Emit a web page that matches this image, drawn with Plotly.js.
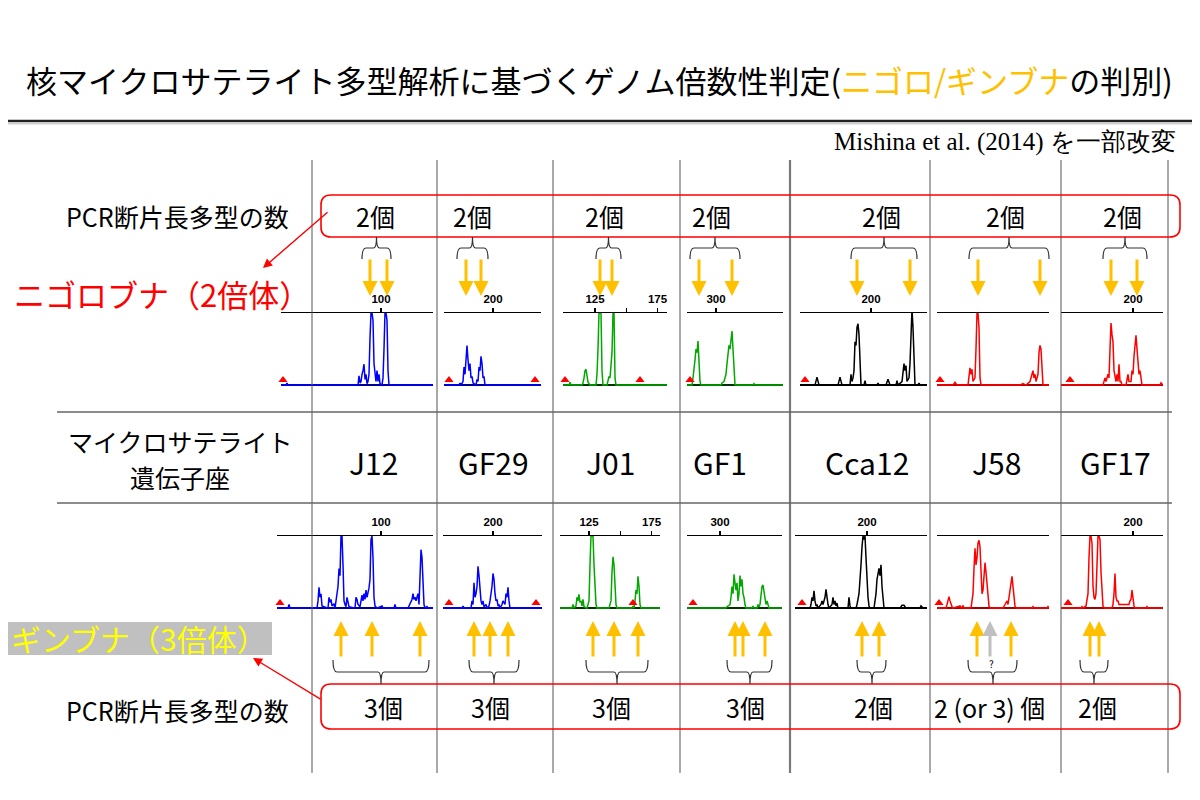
<!DOCTYPE html>
<html><head><meta charset="utf-8">
<script src="https://cdn.plot.ly/plotly-3.0.1.min.js"></script>
<style>html,body{margin:0;padding:0;background:#fff}#chart{width:1200px;height:800px}</style>
</head><body><div id="chart"></div>
<script>
// ---------------- DATA ----------------
const loci = ['J12','GF29','J01','GF1','Cca12','J58','GF17'];
const nigoroCounts = ['2個','2個','2個','2個','2個','2個','2個'];
const ginbunaCounts = ['3個','3個','3個','3個','2個','2 (or 3) 個','2個'];
// allele sizes (bp) marked by arrows
const nigoroAlleles = [[91.2,104.8],[178.4,190.4],[129,138.6],[286.4,312.8],[188.8,231.2],[182.8,232.4],[182.4,203.2]];
const ginbunaAlleles = [[68,92.8,131.2],[184.8,197.6,212],[128.2,145,164.2],[312,318.4,336],[196,209.6],[182,209.2],[165.6,172.8]];
const ginbunaUncertainJ58 = [192.4];
// size-axis ticks
const tickJ12 = [100], tickGF29 = [200], tickJ01 = [125,150,175], tickJ01Text = ['125','','175'];
const tickGF1 = [300], tickCca12 = [200], tickJ58 = [], tickGF17 = [200];

// Nigorobuna (diploid) electropherograms: size (bp) and relative height
const j12Top_bp = [20,24,24.8,25.6,81.6,82.4,83.2,84,84.8,85.6,86.4,87.2,88,88.8,89.6,90.4,91.2,92,92.8,93.6,94.4,95.2,96,96.8,97.6,98.4,99.2,100.8,101.6,102.4,103.2,104,104.8,105.6,106.4,141.6];
const j12Top_h  = [0,0,0.03,0,0,0.13,0.03,0.05,0.15,0.2,0.29,0.08,0.15,0.02,0.05,0.15,0.65,1,1,0.9,0.3,0.2,0.05,0.2,0.05,0.15,0.02,0,0.1,0.5,1,1,0.9,0.2,0,0];
const j12Top_std = [21.6];

const gf29Top_bp = [160.8,172.8,173.6,174.4,176,176.8,177.6,178.4,179.2,180,180.8,181.6,182.4,183.2,184,186.4,187.2,188,188.8,189.6,190.4,191.2,192,192.8,193.6,238.4];
const gf29Top_h  = [0,0,0.03,0,0.05,0.25,0.15,0.4,0.55,0.35,0.2,0.3,0.1,0.12,0.03,0,0.08,0.05,0.25,0.2,0.4,0.3,0.1,0.12,0,0];
const gf29Top_std = [164.8,233.6];

const j01Top_bp = [99.4,104.2,105,105.8,114.6,115.4,116.2,117,117.8,118.6,119.4,120.2,121,125.8,126.6,127.4,128.2,129,129.8,130.6,131.4,134.6,135.4,136.2,137,137.8,138.6,139.4,140.2,141,141.8,182.6];
const j01Top_h  = [0,0,0.04,0,0,0.03,0.1,0.2,0.22,0.08,0.04,0.02,0,0,0.15,0.5,1,1,1,0.2,0,0,0.05,0.12,0.1,0.35,0.45,1,1,0.1,0,0];
const j01Top_std = [101,161];

const gf1Top_bp = [276.8,280.8,281.6,282.4,283.2,284,284.8,285.6,286.4,287.2,288,304,304.8,306.4,307.2,308,308.8,309.6,310.4,311.2,312,312.8,313.6,314.4,315.2,329.6,330.4,331.2,353.6];
const gf1Top_h  = [0,0,0.1,0.2,0.35,0.5,0.45,0.61,0.3,0.05,0,0,0.03,0.05,0.1,0.15,0.3,0.45,0.55,0.5,0.65,0.75,0.5,0.2,0,0,0.02,0,0];
const gf1Top_std = [279.2];

const cca12Top_bp = [143.2,155.2,156.8,158.4,173.6,175.2,176.8,183.2,184,184.8,185.6,186.4,187.2,188,188.8,189.6,190.4,191.2,192,194.4,195.2,196,204.8,205.6,206.4,212,213.6,215.2,220,220.8,221.6,224.8,226.4,227.2,228,228.8,230.4,231.2,232,232.8,233.6,234.4,235.2,237.6,238.4,239.2,244.8];
const cca12Top_h  = [0,0,0.11,0,0,0.11,0,0,0.15,0.05,0.1,0.2,0.6,0.55,0.8,0.85,0.7,0.4,0,0,0.06,0,0,0.03,0,0,0.08,0,0,0.06,0,0.05,0.3,0.2,0.27,0.05,0.1,0.3,0.7,1.05,0.8,0.2,0,0,0.03,0,0];
const cca12Top_std = [147.2];

const j58Top_bp = [150,162.8,164.4,166,174.8,175.6,176.4,177.2,178,178.8,180.4,181.2,182,182.8,183.6,184.4,185.2,216.4,218.8,221.2,224.4,226,226.8,227.6,228.4,229.2,230.8,231.6,232.4,233.2,234,234.8,239.6];
const j58Top_h  = [0,0,0.04,0,0,0.1,0.24,0.15,0.22,0.05,0.1,0.5,1,1,0.8,0.1,0,0,0.02,0,0.05,0.15,0.2,0.1,0.15,0.05,0.15,0.45,0.55,0.5,0.2,0,0];
const j58Top_std = [152.4];

const gf17Top_bp = [142.4,176,177.6,178.4,180,180.8,181.6,182.4,183.2,184,184.8,185.6,186.4,187.2,188,188.8,189.6,190.4,191.2,194.4,195.2,196,196.8,198.4,199.2,200,200.8,201.6,202.4,203.2,204,204.8,205.6,206.4,207.2,221.6,222.4,224];
const gf17Top_h  = [0,0,0.1,0.05,0.15,0.1,0.5,0.86,0.7,0.6,0.2,0.1,0.05,0.15,0.05,0.29,0.05,0.05,0,0,0.1,0.15,0.05,0.05,0.2,0.15,0.4,0.55,0.69,0.5,0.3,0.15,0.2,0.05,0,0,0.03,0];
const gf17Top_std = [149.6];

// Ginbuna (triploid) electropherograms
const j12Bot_bp = [16.8,25.6,26.4,27.2,48.8,49.6,50.4,51.2,52,52.8,57.6,58.4,59.2,60,60.8,62.4,63.2,64,64.8,65.6,66.4,67.2,68,68.8,69.6,70.4,71.2,72,72.8,73.6,74.4,79.2,80,80.8,81.6,83.2,84,84.8,85.6,86.4,87.2,88,88.8,89.6,90.4,91.2,92,92.8,93.6,94.4,95.2,96.8,100.8,101.6,110.4,111.2,112,121.6,123.2,124.8,125.6,126.4,127.2,128,128.8,129.6,130.4,131.2,132,132.8,133.6,134.4,135.2,136.8,137.6,141.6];
const j12Bot_h  = [0,0,0.05,0,0,0.1,0.29,0.15,0.2,0.03,0,0.15,0.08,0.12,0.03,0.06,0,0.1,0.25,0.3,0.55,0.45,1,1,0.6,0.1,0.05,0.02,0.15,0.1,0.02,0,0.15,0.12,0.05,0.02,0.08,0.18,0.1,0.2,0.12,0.25,0.15,0.2,0.28,0.4,0.95,1,0.7,0.15,0.03,0,0.03,0,0,0.05,0,0,0.05,0.12,0.2,0.12,0.15,0.1,0.15,0.2,0.05,0.5,0.81,0.7,0.3,0.05,0,0.02,0,0];
const j12Bot_std = [19.2];

const gf29Bot_bp = [160,175.2,176,176.8,182.4,183.2,184,184.8,185.6,186.4,187.2,188,188.8,189.6,190.4,191.2,192,192.8,194.4,195.2,196.8,197.6,198.4,199.2,200,200.8,201.6,202.4,203.2,204,204.8,205.6,207.2,208,209.6,210.4,211.2,212,212.8,213.6,239.2];
const gf29Bot_h  = [0,0,0.03,0,0,0.1,0.05,0.35,0.15,0.2,0.3,0.58,0.45,0.25,0.1,0.05,0.1,0.02,0.05,0,0.03,0.1,0.2,0.3,0.48,0.4,0.2,0.1,0.12,0.03,0.05,0,0.05,0.1,0.05,0.2,0.15,0.29,0.1,0,0];
const gf29Bot_std = [164.8,234.4];

const j01Bot_bp = [101.8,111.4,112.2,113,114.6,115.4,116.2,117,117.8,118.6,119.4,120.2,121,123.4,124.2,125,125.8,126.6,127.4,128.2,129,129.8,130.6,131.4,141,141.8,142.6,143.4,144.2,145,145.8,146.6,147.4,159.4,160.2,161,161.8,162.6,163.4,164.2,165,165.8,166.6,181.8];
const j01Bot_h  = [0,0,0.05,0,0.03,0.15,0.1,0.19,0.08,0.1,0.03,0.12,0.02,0,0.05,0.1,0.6,1,1,1,0.6,0.3,0.05,0,0,0.05,0.1,0.5,0.71,0.6,0.3,0.05,0,0,0.03,0,0.1,0.25,0.2,0.44,0.3,0.05,0,0];
const j01Bot_std = [160.2];

const gf1Bot_bp = [273.6,304.8,305.6,308,308.8,309.6,310.4,311.2,312,312.8,313.6,314.4,315.2,316,316.8,317.6,318.4,319.2,320,320.8,325.6,326.4,327.2,329.6,330.4,331.2,332,332.8,333.6,334.4,335.2,336,336.8,337.6,338.4,339.2,349.6];
const gf1Bot_h  = [0,0,0.02,0.05,0.15,0.3,0.2,0.47,0.35,0.25,0.35,0.1,0.2,0.45,0.3,0.4,0.2,0.15,0.05,0,0,0.03,0,0,0.05,0.02,0.05,0.15,0.3,0.32,0.2,0.15,0.05,0.1,0.02,0,0];
const gf1Bot_std = [278.4];

const cca12Bot_bp = [142.4,154.4,155.2,156,156.8,157.6,158.4,159.2,160,160.8,163.2,164,164.8,166.4,167.2,168,168.8,169.6,172,172.8,173.6,174.4,175.2,176,176.8,184.8,185.6,186.4,187.2,191.2,192,193.6,194.4,195.2,196,196.8,197.6,198.4,199.2,200,200.8,201.6,202.4,205.6,206.4,207.2,208,208.8,209.6,210.4,211.2,212,212.8,213.6,226.4,228,229.6,231.2,242.4,243.2,244.8,248];
const cca12Bot_h  = [0,0,0.05,0.15,0.1,0.24,0.1,0.03,0.05,0,0.05,0.1,0.05,0.15,0.26,0.1,0.05,0,0.05,0.15,0.05,0.1,0.03,0.07,0,0,0.15,0.03,0,0,0.05,0.2,0.35,0.6,0.85,1,0.95,1,0.7,0.4,0.15,0.03,0,0,0.08,0.2,0.4,0.5,0.55,0.45,0.6,0.3,0.08,0,0,0.04,0.04,0,0,0.03,0,0];
const cca12Bot_std = [148];

const j58Bot_bp = [150,157.2,158,158.8,159.6,160.4,161.2,162.4,168.4,169.2,170.8,171.6,177.2,178,178.8,179.6,180.4,181.2,182,182.8,183.6,184.4,185.2,186,186.8,187.6,188.4,189.2,190,190.8,191.6,192.4,202.8,204.4,206,206.8,207.6,208.4,209.2,210,210.8,211.6,212.4,213.2,226,226.8,227.6,238,238.8,239.6];
const j58Bot_h  = [0,0,0.05,0.12,0.16,0.1,0.05,0,0.03,0,0.03,0,0,0.1,0.2,0.55,0.83,0.6,0.7,0.9,0.94,0.85,0.4,0.2,0.25,0.4,0.63,0.5,0.3,0.1,0.03,0,0,0.05,0.1,0.05,0.15,0.2,0.35,0.44,0.3,0.1,0.03,0,0,0.02,0,0,0.02,0];
const j58Bot_std = [151.6];

const gf17Bot_bp = [142.4,158.4,159.2,160,162.4,163.2,164,164.8,165.6,166.4,167.2,168,168.8,169.6,170.4,171.2,172,172.8,173.6,174.4,175.2,176,176.8,183.2,184,184.8,185.6,186.4,187.2,188,188.8,196.8,197.6,198.4,199.2,200,200.8,201.6,210.4,211.2,212,224];
const gf17Bot_h  = [0,0,0.02,0,0.03,0.1,0.2,0.7,1,1,0.9,0.3,0.15,0.12,0.2,0.6,1,1,0.95,0.5,0.2,0.03,0,0,0.05,0.2,0.48,0.15,0.1,0.1,0.05,0.05,0.1,0.12,0.25,0.1,0.03,0,0,0.02,0,0];
const gf17Bot_std = [148];

// ---------------- LAYOUT HELPERS ----------------
const W = 1200, H = 800;
const X = p => p / W, Y = p => 1 - p / H;
const JP = '"Noto Sans CJK JP", "Noto Sans", sans-serif';
const BLUE = '#0000FF', GREEN = '#00A800', BLACK = '#000000', RED = '#FF0000';
const ORANGE = '#FFC000';

const rows = [{t: 313, b: 388}, {t: 536, b: 611}];
const panels = [
  {row:0,l:281,r:433,range:[20,141.6],bp:j12Top_bp,h:j12Top_h,std:j12Top_std,c:BLUE,base:'#000090',tv:tickJ12},
  {row:0,l:444,r:541,range:[160.8,238.4],bp:gf29Top_bp,h:gf29Top_h,std:gf29Top_std,c:BLUE,base:'#000090',tv:tickGF29},
  {row:0,l:563,r:667,range:[99.4,182.6],bp:j01Top_bp,h:j01Top_h,std:j01Top_std,c:GREEN,base:'#003300',tv:tickJ01,tt:tickJ01Text},
  {row:0,l:687,r:783,range:[276.8,353.6],bp:gf1Top_bp,h:gf1Top_h,std:gf1Top_std,c:GREEN,base:'#003300',tv:tickGF1},
  {row:0,l:800,r:927,range:[143.2,244.8],bp:cca12Top_bp,h:cca12Top_h,std:cca12Top_std,c:BLACK,base:'#000',tv:tickCca12},
  {row:0,l:937,r:1049,range:[150,239.6],bp:j58Top_bp,h:j58Top_h,std:j58Top_std,c:RED,base:'#A00000',tv:tickJ58},
  {row:0,l:1061,r:1163,range:[142.4,224],bp:gf17Top_bp,h:gf17Top_h,std:gf17Top_std,c:RED,base:'#A00000',tv:tickGF17},
  {row:1,l:277,r:433,range:[16.8,141.6],bp:j12Bot_bp,h:j12Bot_h,std:j12Bot_std,c:BLUE,base:'#000090',tv:tickJ12},
  {row:1,l:443,r:542,range:[160,239.2],bp:gf29Bot_bp,h:gf29Bot_h,std:gf29Bot_std,c:BLUE,base:'#000090',tv:tickGF29},
  {row:1,l:560,r:660,range:[101.8,181.8],bp:j01Bot_bp,h:j01Bot_h,std:j01Bot_std,c:GREEN,base:'#003300',tv:tickJ01,tt:tickJ01Text},
  {row:1,l:687,r:782,range:[273.6,349.6],bp:gf1Bot_bp,h:gf1Bot_h,std:gf1Bot_std,c:GREEN,base:'#003300',tv:tickGF1},
  {row:1,l:795,r:927,range:[142.4,248],bp:cca12Bot_bp,h:cca12Bot_h,std:cca12Bot_std,c:BLACK,base:'#000',tv:tickCca12},
  {row:1,l:937,r:1049,range:[150,239.6],bp:j58Bot_bp,h:j58Bot_h,std:j58Bot_std,c:RED,base:'#A00000',tv:tickJ58},
  {row:1,l:1061,r:1163,range:[142.4,224],bp:gf17Bot_bp,h:gf17Bot_h,std:gf17Bot_std,c:RED,base:'#A00000',tv:tickGF17}
];

const traces = [];
const layout = {
  width: W, height: H, margin: {l:0, r:0, t:0, b:0},
  paper_bgcolor: '#fff', plot_bgcolor: 'rgba(0,0,0,0)', showlegend: false,
  shapes: [], annotations: []
};
const axId = i => (i === 0 ? '' : String(i + 1));

panels.forEach((p, i) => {
  const id = axId(i);
  const row = rows[p.row];
  traces.push({x: p.bp, y: p.h, xaxis: 'x' + id, yaxis: 'y' + id, type: 'scatter', mode: 'lines',
    line: {color: p.c, width: 1.5}, hoverinfo: 'skip'});
  traces.push({x: p.std, y: p.std.map(() => 0.07), xaxis: 'x' + id, yaxis: 'y' + id, type: 'scatter', mode: 'markers',
    marker: {symbol: 'triangle-up', size: 8, color: '#FF0000'}, cliponaxis: false, hoverinfo: 'skip'});
  layout['xaxis' + id] = {
    domain: [X(p.l), X(p.r)], range: p.range, anchor: 'y' + id, side: 'top',
    showline: true, linecolor: '#000', linewidth: 1.5, showgrid: false, zeroline: false,
    tickmode: 'array', tickvals: p.tv, ticktext: p.tt || p.tv.map(String),
    ticks: 'outside', ticklen: 4, tickwidth: 1.5, tickcolor: '#000',
    tickfont: {family: 'Liberation Sans, Arial, sans-serif', size: 11.5, color: '#000', weight: 700},
    fixedrange: true
  };
  layout['yaxis' + id] = {
    domain: [Y(row.b), Y(row.t)], range: [-0.04, 1.0], anchor: 'x' + id,
    showgrid: false, showline: false, showticklabels: false, ticks: '',
    zeroline: true, zerolinecolor: p.base, zerolinewidth: 2.5, fixedrange: true
  };
});

// --- shapes ---
const S = layout.shapes;
const line = (x0, y0, x1, y1, color, width) => S.push({type: 'line', xref: 'paper', yref: 'paper',
  x0: X(x0), y0: Y(y0), x1: X(x1), y1: Y(y1), line: {color: color, width: width}});
line(8, 121, 1192, 121, '#222', 2.5);
line(8, 123.5, 1192, 123.5, '#d0d0d0', 2);
[312, 437, 553, 680, 930, 1061, 1168].forEach(x => line(x, 160, x, 773, '#555', 1));
line(790, 160, 790, 773, '#7a7a7a', 2.2);
line(57, 412, 1172, 412, '#666', 1.5);
line(57, 503, 1172, 503, '#666', 1.5);

const pt = (x, y) => X(x).toFixed(5) + ',' + Y(y).toFixed(5);
function roundRect(x0, y0, x1, y1, r) {
  return 'M' + pt(x0 + r, y0) + ' L' + pt(x1 - r, y0) + ' Q' + pt(x1, y0) + ' ' + pt(x1, y0 + r) +
    ' L' + pt(x1, y1 - r) + ' Q' + pt(x1, y1) + ' ' + pt(x1 - r, y1) +
    ' L' + pt(x0 + r, y1) + ' Q' + pt(x0, y1) + ' ' + pt(x0, y1 - r) +
    ' L' + pt(x0, y0 + r) + ' Q' + pt(x0, y0) + ' ' + pt(x0 + r, y0) + ' Z';
}
S.push({type: 'path', xref: 'paper', yref: 'paper', path: roundRect(321, 195, 1180, 237, 10), line: {color: RED, width: 1.6}});
S.push({type: 'path', xref: 'paper', yref: 'paper', path: roundRect(321, 684, 1180, 729, 10), line: {color: RED, width: 1.6}});

function brace(x0, x1, yLeg, yBar, yTip, xc) {
  xc = xc === undefined ? (x0 + x1) / 2 : xc;
  return 'M' + pt(x0, yLeg) + ' Q' + pt(x0, yBar) + ' ' + pt(x0 + 4, yBar) +
    ' L' + pt(xc - 3, yBar) + ' Q' + pt(xc, yBar) + ' ' + pt(xc, yTip) +
    ' Q' + pt(xc, yBar) + ' ' + pt(xc + 3, yBar) +
    ' L' + pt(x1 - 4, yBar) + ' Q' + pt(x1, yBar) + ' ' + pt(x1, yLeg);
}
const topBraces = [[362, 391], [457, 488], [596, 621], [690, 740], [851, 917], [969, 1049], [1103, 1147]];
const botBraces = [[333, 429, 381], [469, 519, 494], [586, 648, 617], [727, 772, 750], [857, 886, 872], [968, 1017, 993], [1080, 1108, 1094]];
topBraces.forEach(b => S.push({type: 'path', xref: 'paper', yref: 'paper', path: brace(b[0], b[1], 259, 248, 237), line: {color: '#333', width: 1.2}}));
botBraces.forEach(b => S.push({type: 'path', xref: 'paper', yref: 'paper', path: brace(b[0], b[1], 660, 672, 684, b[2]), line: {color: '#333', width: 1.2}}));

S.push({type: 'rect', xref: 'paper', yref: 'paper', x0: X(8), x1: X(272), y0: Y(655), y1: Y(622),
  fillcolor: '#C0C0C0', line: {width: 0}, layer: 'below'});

// --- annotations ---
const A = layout.annotations;
const txt = (x, y, text, size, color, extra) => A.push(Object.assign({xref: 'paper', yref: 'paper', x: X(x), y: Y(y),
  text: text, showarrow: false, xanchor: 'center', yanchor: 'middle', font: {family: JP, size: size, color: color || '#000'}}, extra || {}));

txt(599, 79, '核マイクロサテライト多型解析に基づくゲノム倍数性判定(<span style="color:' + ORANGE + '">ニゴロ/ギンブナ</span>の判別)', 31, '#000');
txt(1178, 142, 'Mishina et al. (2014) を一部改変', 25, '#000', {xanchor: 'right', font: {family: '"Liberation Serif", "Times New Roman", serif', size: 25, color: '#000'}});
txt(177, 216, 'PCR断片長多型の数', 25);
txt(177, 710, 'PCR断片長多型の数', 25);
txt(162, 293, 'ニゴロブナ（2倍体）', 31, RED);
txt(139, 638, 'ギンブナ（3倍体）', 30, '#FFFF00');
txt(180, 441, 'マイクロサテライト', 25);
txt(180, 477, '遺伝子座', 25);

const locusX = [373, 493, 610, 720, 867, 996, 1115];
const nigoroCountX = [375, 472, 604, 711, 881, 1005, 1122];
const ginbunaCountX = [383, 490, 611, 745, 873, 989, 1097];
loci.forEach((n, k) => txt(locusX[k], 462, n, 30));
nigoroCounts.forEach((n, k) => txt(nigoroCountX[k], 216, n, 25));
ginbunaCounts.forEach((n, k) => txt(ginbunaCountX[k], 707, n, 25));

const arrow = (xref, x, y, ay, color) => A.push({xref: xref, yref: 'paper', x: x, y: Y(y), ax: 0, ay: ay,
  axref: 'pixel', ayref: 'pixel', text: '', showarrow: true, arrowhead: 2, arrowsize: 1, arrowwidth: 3,
  arrowcolor: color, standoff: 0});
nigoroAlleles.forEach((al, k) => al.forEach(bp => arrow('x' + axId(k), bp, 296, -38, ORANGE)));
ginbunaAlleles.forEach((al, k) => al.forEach(bp => arrow('x' + axId(k + 7), bp, 621, 37, ORANGE)));
ginbunaUncertainJ58.forEach(bp => arrow('x' + axId(12), bp, 621, 37, '#BFBFBF'));
txt(991, 663, '?', 10);

A.push({xref: 'paper', yref: 'paper', x: X(263), y: Y(268), ax: 66, ay: -57, axref: 'pixel', ayref: 'pixel',
  text: '', showarrow: true, arrowhead: 2, arrowsize: 1.3, arrowwidth: 1.4, arrowcolor: RED});
A.push({xref: 'paper', yref: 'paper', x: X(253), y: Y(658), ax: 69, ay: 42, axref: 'pixel', ayref: 'pixel',
  text: '', showarrow: true, arrowhead: 2, arrowsize: 1.3, arrowwidth: 1.4, arrowcolor: RED});

Plotly.newPlot('chart', traces, layout, {displayModeBar: false, staticPlot: true});
</script></body></html>
